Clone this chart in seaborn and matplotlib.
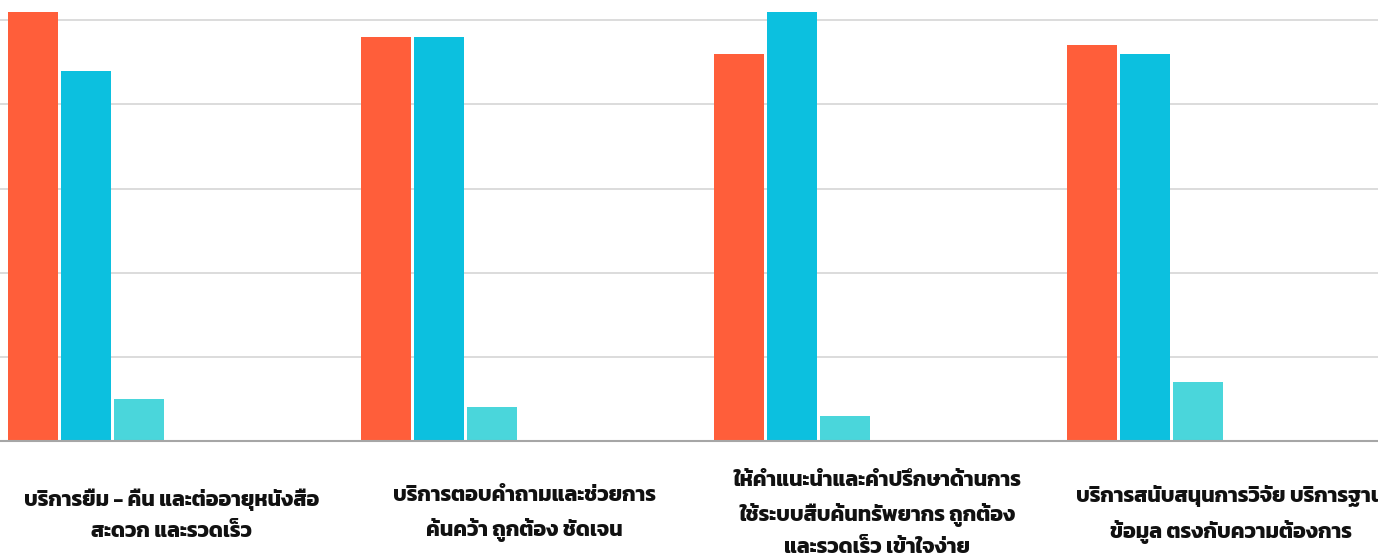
"""
Library service satisfaction - grouped bar chart
"""
import logging
import pandas as pd
import matplotlib.pyplot as plt
import matplotlib.transforms as mtransforms
import seaborn as sns

logging.getLogger("matplotlib.font_manager").setLevel(logging.ERROR)

# ── Data ───────────────────────────────────────────────────────────────────
CATEGORIES = [
    "บริการยืม - คืน และต่ออายุหนังสือ\nสะดวก และรวดเร็ว",
    "บริการตอบคำถามและช่วยการ\nค้นคว้า ถูกต้อง ชัดเจน",
    "ให้คำแนะนำและคำปรึกษาด้านการ\nใช้ระบบสืบค้นทรัพยากร ถูกต้อง\nและรวดเร็ว เข้าใจง่าย",
    "บริการสนับสนุนการวิจัย บริการฐาน\nข้อมูล ตรงกับความต้องการ",
]
SERIES = ["มาก", "ปานกลาง", "น้อย"]
# empty slots that the original chart keeps for unused series
EMPTY_SLOTS = ["ว่าง 1", "ว่าง 2", "ว่าง 3"]
VAL_MAK = [51, 48, 46, 47]
VAL_KLANG = [44, 48, 51, 46]
VAL_NOI = [5, 4, 3, 7]

COLORS = ["#FF5E3A", "#0CC0DF", "#4AD6DB"]

# ── Style ──────────────────────────────────────────────────────────────────
sns.set_theme(style="white")
plt.rcParams["font.family"] = ["Kanit", "Prompt", "Noto Sans Thai", "Noto Sans Thai Looped",
                               "Sarabun", "Loma", "Garuda", "Waree", "Tlwg Typo",
                               "Norasi", "Noto Sans", "DejaVu Sans"]

df = pd.DataFrame({
    "category": CATEGORIES * 3,
    "series": [s for s in SERIES for _ in CATEGORIES],
    "value": VAL_MAK + VAL_KLANG + VAL_NOI,
})

fig = plt.figure(figsize=(13.78, 5.57), dpi=100)
ax = fig.add_axes([0, 116 / 557, 1, 441 / 557])

palette = dict(zip(SERIES + EMPTY_SLOTS, COLORS + ["white"] * 3))
sns.barplot(data=df, x="category", y="value", hue="series",
            hue_order=SERIES + EMPTY_SLOTS, palette=palette,
            width=0.9, gap=0.057, saturation=1, linewidth=0, legend=False, ax=ax)

ax.set_ylim(0, 52.4)
ax.set_xlim(-0.469, 3.435)
ax.set_yticks(range(0, 51, 10))
ax.set_yticklabels([])
ax.yaxis.grid(True, color="#d6d6d6", linewidth=1.2)
ax.set_axisbelow(True)
for side in ["left", "right", "top"]:
    ax.spines[side].set_visible(False)
ax.spines["bottom"].set_color("#a6a6a6")
ax.spines["bottom"].set_linewidth(1.5)

ax.set_xlabel("")
ax.set_ylabel("")
ax.tick_params(axis="x", length=0, pad=53)
# labels sit a few pixels right of the bar-group centre in the original
shift = mtransforms.ScaledTranslation(6 / 100, 0, fig.dpi_scale_trans)
for lbl in ax.get_xticklabels():
    lbl.set_fontsize(15.3)
    lbl.set_fontweight("bold")
    lbl.set_verticalalignment("center")
    lbl.set_linespacing(1.72)
    lbl.set_color("#111111")
    lbl.set_transform(lbl.get_transform() + shift)

plt.savefig("out.png", dpi=100)
plt.close()
